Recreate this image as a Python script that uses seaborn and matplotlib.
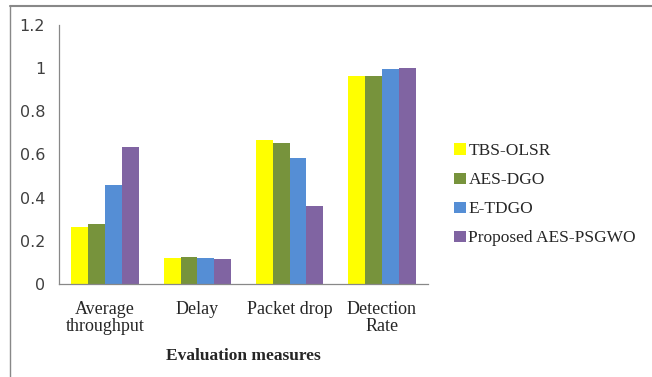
import pandas as pd
import matplotlib.pyplot as plt
import seaborn as sns
from matplotlib.lines import Line2D

categories = ["Average\nthroughput", "Delay", "Packet drop", "Detection\nRate"]
methods = ["TBS-OLSR", "AES-DGO", "E-TDGO", "Proposed AES-PSGWO"]
tbs_olsr = [0.265, 0.120, 0.665, 0.961]
aes_dgo = [0.278, 0.123, 0.654, 0.961]
e_tdgo = [0.458, 0.119, 0.581, 0.994]
aes_psgwo = [0.636, 0.114, 0.359, 0.998]
colors = ["#FFFF00", "#77933C", "#558ED5", "#8064A2"]
yticks = [0, 0.2, 0.4, 0.6, 0.8, 1, 1.2]
ytick_labels = ["0", "0.2", "0.4", "0.6", "0.8", "1", "1.2"]

rows = []
for name, vals in zip(methods, [tbs_olsr, aes_dgo, e_tdgo, aes_psgwo]):
    for cat, v in zip(categories, vals):
        rows.append({"measure": cat, "method": name, "value": v})
df = pd.DataFrame(rows)

sns.set_style("white")
serif = ["Liberation Serif", "DejaVu Serif"]

fig = plt.figure(figsize=(6.52, 3.77), dpi=100)
ax = fig.add_axes([0.0905, 0.247, 0.566, 0.687])

sns.barplot(data=df, x="measure", y="value", hue="method", order=categories,
            hue_order=methods, palette=colors, width=0.73, gap=0,
            saturation=1, linewidth=0, ax=ax)

ax.set_ylim(0, 1.2)
ax.set_xlim(-0.5, 3.5)
ax.set_yticks(yticks)
ax.set_yticklabels(ytick_labels, fontsize=11.5, color="#404040",
                   family="DejaVu Sans")
# boundary ticks like the original, labels on minor ticks at centres
ax.set_xticks([-0.5, 0.5, 1.5, 2.5, 3.5])
ax.set_xticklabels([])
ax.set_xticks(range(4), minor=True)
ax.set_xticklabels(categories, minor=True, fontsize=13, family=serif,
                   linespacing=1.0)
ax.tick_params(axis="x", which="major", length=5, color="#888888", direction="out")
ax.tick_params(axis="x", which="minor", length=0, pad=12)
ax.tick_params(axis="y", length=4, color="#888888", direction="out", pad=6)
for s in ["top", "right"]:
    ax.spines[s].set_visible(False)
for s in ["left", "bottom"]:
    ax.spines[s].set_color("#888888")
    ax.spines[s].set_linewidth(0.9)

ax.set_ylabel("")
ax.set_xlabel("Evaluation measures", fontsize=12.5, fontweight="bold",
              family=serif, labelpad=10)

ax.legend(loc="center left", bbox_to_anchor=(0.697, 0.483),
          bbox_transform=fig.transFigure, frameon=False, borderpad=0,
          borderaxespad=0, prop={"family": serif, "size": 12.5},
          handlelength=0.65, handleheight=0.65, handletextpad=0.15,
          labelspacing=0.75)

# outer chart frame (top and left edges visible)
fig.add_artist(Line2D([0.016, 1.0], [0.984, 0.984], color="#888888", lw=1.5,
                      transform=fig.transFigure))
fig.add_artist(Line2D([0.016, 0.016], [0.0, 0.984], color="#888888", lw=1.0,
                      transform=fig.transFigure))

fig.savefig("out.png", dpi=100)
